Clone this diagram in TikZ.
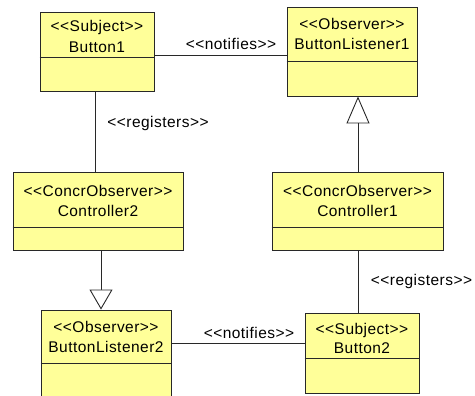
\documentclass[tikz,border=0pt]{standalone}
\usepackage{fontspec}
\usetikzlibrary{arrows.meta}
% plain mapping so that << and >> stay as typed
\newfontfamily\umlfont{Liberation Sans}[LetterSpace=3]
\definecolor{clsfill}{RGB}{255,255,153}
\definecolor{clsline}{RGB}{40,40,40}
\begin{document}
\begin{tikzpicture}[x=1pt,y=-1pt,
  cls/.style={draw=clsline, fill=clsfill, line width=0.9pt, inner sep=0pt, rectangle},
  lbl/.style={font=\umlfont\fontsize{15.5}{17}\selectfont, anchor=base, inner sep=0pt, text=black},
  link/.style={draw=clsline, line width=0.9pt},
  gen/.style={link, -{Triangle[open, length=#1, width=23pt, fill=white]}},
  gen/.default=20pt]
\useasboundingbox (0,0) rectangle (475,396);
\clip (0,0) rectangle (475,396);

% class boxes
\node[cls, minimum width=114pt, minimum height=79pt] (b1)  at (97,51.5) {};
\node[cls, minimum width=130pt, minimum height=89pt] (bl1) at (352,51.5) {};
\node[cls, minimum width=170pt, minimum height=78pt] (c2)  at (98,211) {};
\node[cls, minimum width=171pt, minimum height=78pt] (c1)  at (357.5,211) {};
\node[cls, minimum width=130pt, minimum height=94pt] (bl2) at (106,357) {};
\node[cls, minimum width=114pt, minimum height=80pt] (b2)  at (362,353) {};

% compartment dividers
\draw[link] ([yshift=-46pt]b1.north west)  -- ([yshift=-46pt]b1.north east);
\draw[link] ([yshift=-55pt]bl1.north west) -- ([yshift=-55pt]bl1.north east);
\draw[link] ([yshift=-56pt]c2.north west)  -- ([yshift=-56pt]c2.north east);
\draw[link] ([yshift=-56pt]c1.north west)  -- ([yshift=-56pt]c1.north east);
\draw[link] ([yshift=-54pt]bl2.north west) -- ([yshift=-54pt]bl2.north east);
\draw[link] ([yshift=-46pt]b2.north west)  -- ([yshift=-46pt]b2.north east);

% class titles
\node[lbl] (b1s)  at ([yshift=-20pt]b1.north)  {<<Subject>>};
\node[lbl] (b1n)  at ([yshift=-41pt]b1.north)  {Button1};
\node[lbl] (bl1s) at ([yshift=-23pt]bl1.north) {<<Observer>>};
\node[lbl] (bl1n) at ([yshift=-43pt]bl1.north) {ButtonListener1};
\node[lbl] (c2s)  at ([yshift=-25pt]c2.north)  {<<ConcrObserver>>};
\node[lbl] (c2n)  at ([yshift=-45pt]c2.north)  {Controller2};
\node[lbl] (c1s)  at ([yshift=-25pt]c1.north)  {<<ConcrObserver>>};
\node[lbl] (c1n)  at ([yshift=-45pt]c1.north)  {Controller1};
\node[lbl] (bl2s) at ([yshift=-23pt]bl2.north) {<<Observer>>};
\node[lbl] (bl2n) at ([yshift=-43pt]bl2.north) {ButtonListener2};
\node[lbl] (b2s)  at ([yshift=-22pt]b2.north)  {<<Subject>>};
\node[lbl] (b2n)  at ([yshift=-41pt]b2.north)  {Button2};

% associations
\draw[link] ([yshift=-3.5pt]b1.east) -- ([yshift=-3.5pt]bl1.west);
\draw[link] ([yshift=14pt]bl2.east) -- ([yshift=10pt]b2.west);
\draw[link] ([xshift=-2pt]b1.south) -- ([xshift=-3pt]c2.north);
\draw[link] ([xshift=0.5pt]c1.south) -- ([xshift=-4pt]b2.north);

% generalizations
\draw[gen=20pt] ([xshift=3pt]c2.south) -- ([xshift=-5pt]bl2.north);
\draw[gen=27pt] ([xshift=0.5pt]c1.north) -- ([xshift=6pt]bl1.south);

% association labels
\node[lbl] (n1) at (231,50)  {<<notifies>>};
\node[lbl] (r1) at (158,128) {<<registers>>};
\node[lbl] (n2) at (249,338) {<<notifies>>};
\node[lbl] (r2) at (421.5,286) {<<registers>>};
\end{tikzpicture}
\end{document}
